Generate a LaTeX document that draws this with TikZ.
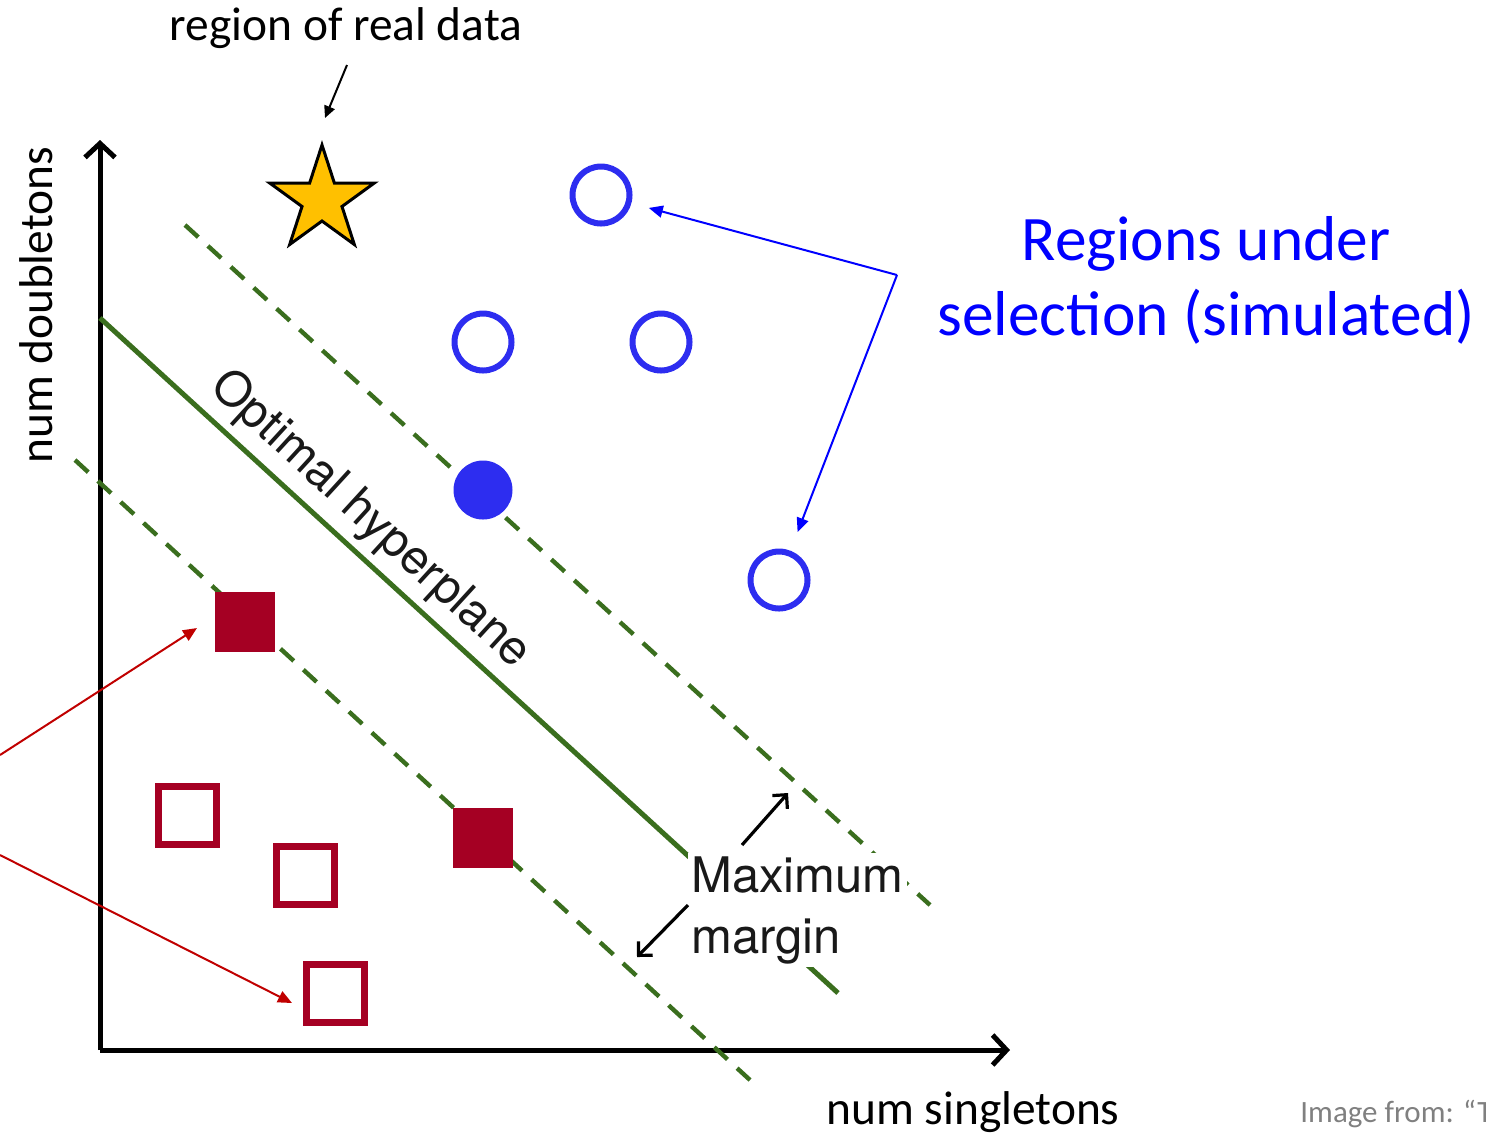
\documentclass[tikz,border=0pt]{standalone}
\usepackage{fontspec}
\setmainfont{Carlito}
\newfontfamily\helv{TeX Gyre Heros}
\usetikzlibrary{arrows.meta,shapes.geometric}
\definecolor{ptblue}{RGB}{45,45,240}
\definecolor{ptred}{RGB}{165,0,35}
\definecolor{arrred}{RGB}{192,0,0}
\definecolor{hgreen}{RGB}{58,110,30}
\definecolor{starfill}{RGB}{255,192,0}
\definecolor{txtgray}{RGB}{128,128,128}
\tikzset{
  axisline/.style={line width=2.5pt, -{Straight Barb[length=7pt,width=15pt]}},
  hyper/.style={line width=2.5pt, draw=hgreen},
  marginline/.style={line width=2.2pt, draw=hgreen, dash pattern=on 9pt off 6.5pt},
  ocirc/.style={circle, draw=ptblue, line width=3pt, minimum size=28.5pt, inner sep=0pt},
  fcirc/.style={circle, fill=ptblue, minimum size=29.5pt, inner sep=0pt},
  fsq/.style={rectangle, fill=ptred, minimum size=30pt, inner sep=0pt},
  osq/.style={rectangle, draw=ptred, line width=3.5pt, minimum size=29pt, inner sep=0pt},
  bluearrow/.style={draw=blue, line width=1pt, -{Triangle[length=7pt,width=6pt]}},
  redarrow/.style={draw=arrred, line width=1pt, -{Triangle[length=7pt,width=6pt]}},
  blackarrow/.style={draw=black, line width=1pt, -{Triangle[length=6pt,width=5.5pt]}},
  margarrow/.style={draw=black, line width=1.6pt, -{Straight Barb[length=5pt,width=10pt]}},
  lbl/.style={inner sep=0pt, font=\fontsize{23.7pt}{28pt}\selectfont},
}
\begin{document}
\begin{tikzpicture}[x=0.5pt,y=-0.5pt]
\useasboundingbox (0,0) rectangle (1486,1132);

% axes
\coordinate (origin) at (100,1050);
\coordinate (ytip) at (100,140);
\coordinate (xtip) at (1010,1050);
\draw[axisline] (origin) -- (ytip);
\draw[axisline] (origin) -- (xtip);

% hyperplane and margins
\coordinate (h1) at (100,318);
\coordinate (h2) at (838,993);
\draw[hyper] (h1) -- (h2);
\coordinate (u1) at (185,225);
\coordinate (u2) at (930,905);
\draw[marginline] (u1) -- (u2);
\coordinate (l1) at (75,460);
\coordinate (l2) at (750,1080);
\draw[marginline] (l1) -- (l2);

% hyperplane label
\node[inner sep=0pt, rotate=-42.5, font=\helv\fontsize{24pt}{28pt}\selectfont, text=black!90] (hplabel) at (370,520) {Optimal hyperplane};

% margin label
\node[fill=white, inner sep=1.5pt, anchor=north west, align=left, font=\helv\fontsize{24.5pt}{30.5pt}\selectfont, text=black!90] (margin) at (688,853) {Maximum\\margin};
\coordinate (ma1) at (742,845);
\coordinate (ma2) at (788,793);
\coordinate (mb1) at (688,905);
\coordinate (mb2) at (637,957);
\draw[margarrow] (ma1) -- (ma2);
\draw[margarrow] (mb1) -- (mb2);

% blue circles
\node[ocirc] (c1) at (601,195) {};
\node[ocirc] (c2) at (483,342) {};
\node[ocirc] (c3) at (661,342) {};
\node[ocirc] (c4) at (779,580) {};
\node[fcirc] (c5) at (483,490) {};

% red squares
\node[fsq] (s1) at (245,622) {};
\node[fsq] (s2) at (483,838) {};
\node[osq] (s3) at (187,815) {};
\node[osq] (s4) at (305,875) {};
\node[osq] (s5) at (335,993) {};

% star
\node[star, star points=5, star point ratio=2.618, minimum size=55pt, inner sep=0pt, fill=starfill, draw=black, line width=1.5pt] (star) at (322,200) {};

% labels
\node[lbl, anchor=base] (realdata) at (346,40) {region of real data};
\coordinate (ra1) at (347,65);
\coordinate (ra2) at (325,118);
\draw[blackarrow] (ra1) -- (ra2);

\node[lbl, anchor=base, rotate=90] (ylabel) at (52,305) {num doubletons};
\node[lbl, anchor=base] (xlabel) at (973,1124) {num singletons};

\node[inner sep=0pt, align=center, text=blue, font=\fontsize{31.7pt}{37.5pt}\selectfont] (regions) at (1206,280) {Regions under\\selection (simulated)};
\coordinate (bend) at (897,275);
\draw[bluearrow, shorten >=9pt] (bend) -- (c1);
\draw[bluearrow, shorten >=10pt] (bend) -- (c4);

\coordinate (r1) at (0,755);
\coordinate (r1t) at (197,628);
\coordinate (r2) at (0,855);
\coordinate (r2t) at (292,1003);
\draw[redarrow] (r1) -- (r1t);
\draw[redarrow] (r2) -- (r2t);

\node[inner sep=0pt, anchor=base west, text=txtgray, font=\fontsize{15.5pt}{18pt}\selectfont] (credit) at (1300,1122) {Image from: “T};
\end{tikzpicture}
\end{document}
